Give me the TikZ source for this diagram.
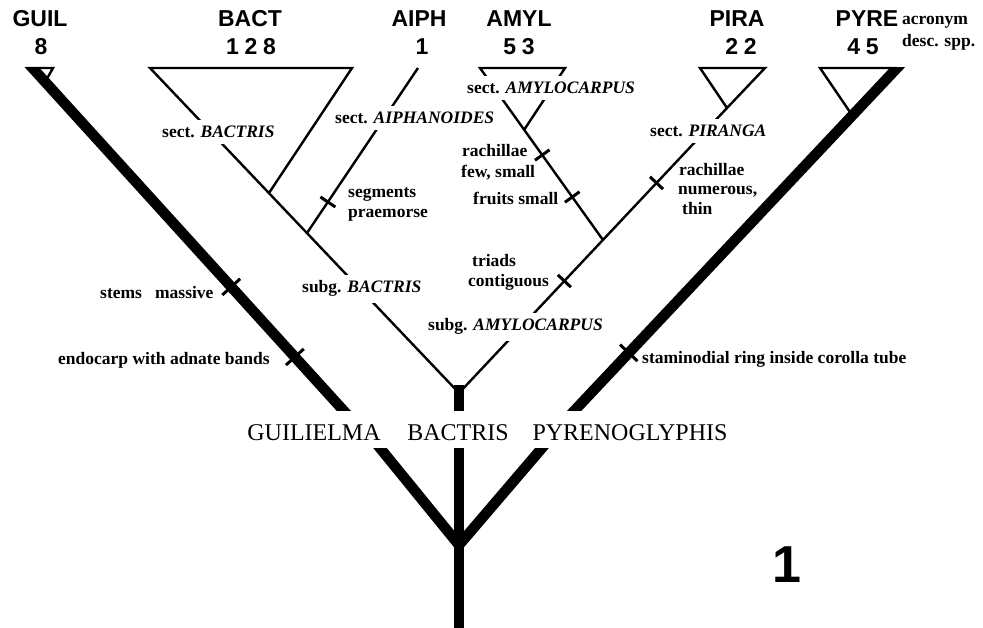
\documentclass[tikz,border=0pt]{standalone}
\usepackage{fontspec}
\setmainfont{Liberation Serif}
\setsansfont{Liberation Sans}
\newfontfamily\numfont{Liberation Sans}[LetterSpace=25]
\usetikzlibrary{calc}
\tikzset{
  branch/.style={line width=2.4pt,line join=miter},
  stem/.style={line width=10.5pt,shorten <=-8pt,shorten >=-8pt},
  tickmark/.style={sloped,fill=black,inner sep=0pt,minimum width=3pt,minimum height=18pt},
  bigtick/.style={tickmark,minimum height=24pt},
  taxon/.style={font=\sffamily\bfseries\fontsize{23}{23}\selectfont,anchor=base,inner sep=0pt},
  count/.style={font=\numfont\bfseries\fontsize{23}{23}\selectfont,anchor=base,inner sep=0pt},
  group/.style={font=\bfseries\fontsize{17.5}{20}\selectfont,anchor=base west,
    fill=white,inner xsep=2pt,inner ysep=6pt},
  trait/.style={font=\bfseries\fontsize{17.5}{20}\selectfont,anchor=base west,inner sep=0pt},
  genus/.style={font=\fontsize{24}{24}\selectfont,anchor=base,inner sep=0pt}
}

\begin{document}
\begin{tikzpicture}[x=1pt,y=-1pt]
\useasboundingbox (0,0) rectangle (983,628);

% tips, apices and forks
\coordinate (guiltip) at (32.5,68);
\coordinate (guilbase) at (343,410);
\coordinate (guilL) at (26,68);
\coordinate (guilR) at (53,68);
\coordinate (guilapex) at (44,84);
\coordinate (bacttip) at (150,68);
\coordinate (bactR) at (352,68);
\coordinate (bactapex) at (269,193);
\coordinate (aiphtip) at (418,68);
\coordinate (aiphjoin) at (307,233);
\coordinate (vapex) at (459,393);
\coordinate (vbase) at (459,410);
\coordinate (amyltip) at (480,68);
\coordinate (amylR) at (565,68);
\coordinate (amylapex) at (524,130);
\coordinate (amylfork) at (603,240);
\coordinate (piraL) at (700,68);
\coordinate (piraR) at (765,68);
\coordinate (piraapex) at (727,108);
\coordinate (pyreL) at (820,68);
\coordinate (pyretip) at (897,68);
\coordinate (pyreapex) at (852,115);
\coordinate (pyrebase) at (575,410);
\coordinate (lowguil) at (380,448);
\coordinate (lowbact) at (459,448);
\coordinate (lowpyre) at (542,448);
\coordinate (rootfork) at (459,545);
\coordinate (root) at (459,628);

% thick lineages
\begin{scope}
\clip (0,68) rectangle (983,410);
\draw[stem] (guiltip) -- (guilbase)
  node[bigtick,pos=.64] {} node[bigtick,pos=.845] {};
\draw[stem] (pyrebase) -- (pyretip)
  node[bigtick,pos=.167] {};
\draw[stem] (vapex) -- (vbase);
\end{scope}
\begin{scope}
\clip (0,448) rectangle (983,628);
\draw[stem,shorten <=0pt,shorten >=0pt] ($(lowguil)!-.1!(rootfork)$) -- (rootfork) -- ($(lowpyre)!-.1!(rootfork)$);
\draw[stem] (lowbact) -- (root);
\end{scope}

% thin lineages
\draw[branch] (guilL) -- (guilR) -- (guilapex);
\draw[branch] (bactapex) -- (bactR) -- (bacttip) -- (vapex) -- (piraapex)
  node[tickmark,pos=.393] {} node[tickmark,pos=.737] {};
\draw[branch] (aiphtip) -- (aiphjoin) node[tickmark,pos=.812] {};
\draw[branch] (amylapex) -- (amylR) -- (amyltip) -- (amylfork)
  node[tickmark,pos=.506] {} node[tickmark,pos=.75] {};
\draw[branch] (piraL) -- (piraR) -- (piraapex) -- cycle;
\draw[branch] (pyreapex) -- (pyreL) -- (pyretip);

% group names
\node[group] (bactsect) at (160,138) {sect. \textit{BACTRIS}};
\node[group] (aiphsect) at (333,124) {sect. \textit{AIPHANOIDES}};
\node[group] (amylsect) at (465,94) {sect. \textit{AMYLOCARPUS}};
\node[group] (pirasect) at (648,137) {sect. \textit{PIRANGA}};
\node[group] (bactsubg) at (300,293) {subg. \textit{BACTRIS}};
\node[group] (amylsubg) at (426,331) {subg. \textit{AMYLOCARPUS}};

% characters
\node[trait] (segA) at (348,198) {segments};
\node[trait] (segB) at (348,218) {praemorse};
\node[trait] (fewA) at (462,157) {rachillae};
\node[trait] (fewB) at (461,178) {few, small};
\node[trait] (fruit) at (473,205) {fruits small};
\node[trait] (triA) at (472,267) {triads};
\node[trait] (triB) at (468,287) {contiguous};
\node[trait] (numA) at (679,176) {rachillae};
\node[trait] (numB) at (678,195) {numerous,};
\node[trait] (numC) at (682,215) {thin};
\node[trait] (stems) at (100,299) {stems~~~massive};
\node[trait] (endo) at (58,365) {endocarp with adnate bands};
\node[trait] (stam) at (642,363) {staminodial ring inside corolla tube};

% header
\node[taxon] (guilname) at (40,27) {GUIL};
\node[taxon] (bactname) at (250,27) {BACT};
\node[taxon] (aiphname) at (419,27) {AIPH};
\node[taxon] (amylname) at (519,27) {AMYL};
\node[taxon] (piraname) at (737,27) {PIRA};
\node[taxon] (pyrename) at (867,27) {PYRE};
\node[count] (guilnum) at (41,55) {8};
\node[count] (bactnum) at (251,55) {128};
\node[count] (aiphnum) at (422,55) {1};
\node[count] (amylnum) at (519,55) {53};
\node[count] (piranum) at (741,55) {22};
\node[count] (pyrenum) at (863,55) {45};
\node[trait] (acro) at (902,25) {acronym};
\node[trait] (desc) at (902,47) {desc. spp.};

% genera
\node[genus] (guiliel) at (314,440) {GUILIELMA};
\node[genus] (bactris) at (458,440) {BACTRIS};
\node[genus] (pyreno) at (630,440) {PYRENOGLYPHIS};
\node[font=\sffamily\bfseries\fontsize{52}{52}\selectfont,anchor=base,inner sep=0pt] (fig) at (787,582) {1};
\end{tikzpicture}
\end{document}
